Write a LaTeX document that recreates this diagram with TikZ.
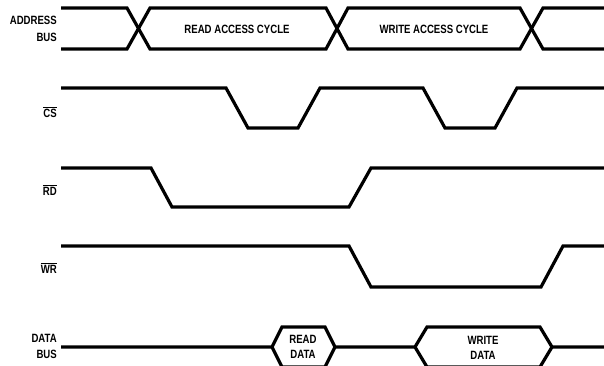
\documentclass[tikz,border=0pt]{standalone}
\usepackage{fontspec}
\setmainfont[FakeStretch=0.8]{Liberation Sans}
\begin{document}
\begin{tikzpicture}[x=1pt,y=-1pt,
  sig/.style={line width=3.2pt,line join=miter},
  lbl/.style={font=\bfseries\fontsize{12}{16}\selectfont,inner sep=0pt,anchor=east,align=right},
  txt/.style={font=\bfseries\fontsize{12}{15}\selectfont,inner sep=0pt,align=center}]
\useasboundingbox (0,0) rectangle (604,366);
% address bus
\draw[sig] (61,8) -- (127,8) -- (150,49) -- (326,49) -- (348,8) -- (520,8) -- (543,49) -- (604,49);
\draw[sig] (61,49) -- (127,49) -- (150,8) -- (326,8) -- (348,49) -- (520,49) -- (543,8) -- (604,8);
\node[txt] (rac) at (237,29) {READ ACCESS CYCLE};
\node[txt] (wac) at (434,29) {WRITE ACCESS CYCLE};
\node[lbl] (ab) at (57,29) {ADDRESS\\[1pt]BUS};
% CS
\draw[sig] (61,88) -- (226,88) -- (248,128) -- (298,128) -- (320,88) -- (423,88) -- (445,128) -- (495,128) -- (517,88) -- (604,88);
\node[lbl] (cs) at (57,112) {$\overline{\hbox{CS}}$};
% RD
\draw[sig] (61,168) -- (151,168) -- (172,207) -- (349,207) -- (371,168) -- (604,168);
\node[lbl] (rd) at (57,190) {$\overline{\hbox{RD}}$};
% WR
\draw[sig] (61,246) -- (349,246) -- (371,287) -- (541,287) -- (563,246) -- (604,246);
\node[lbl] (wr) at (57,268) {$\overline{\hbox{WR}}$};
% data bus
\draw[sig] (61,347) -- (272,347) -- (282,327) -- (325,327) -- (335,347) -- (415,347) -- (427,327) -- (540,327) -- (552,347) -- (604,347);
\draw[sig] (272,347) -- (282,367) -- (325,367) -- (335,347);
\draw[sig] (415,347) -- (427,367) -- (540,367) -- (552,347);
\node[txt] (rdd) at (303,347) {READ\\DATA};
\node[txt] (wrd) at (483,348) {WRITE\\DATA};
\node[lbl] (db) at (57,346) {DATA\\BUS};
\end{tikzpicture}
\end{document}
